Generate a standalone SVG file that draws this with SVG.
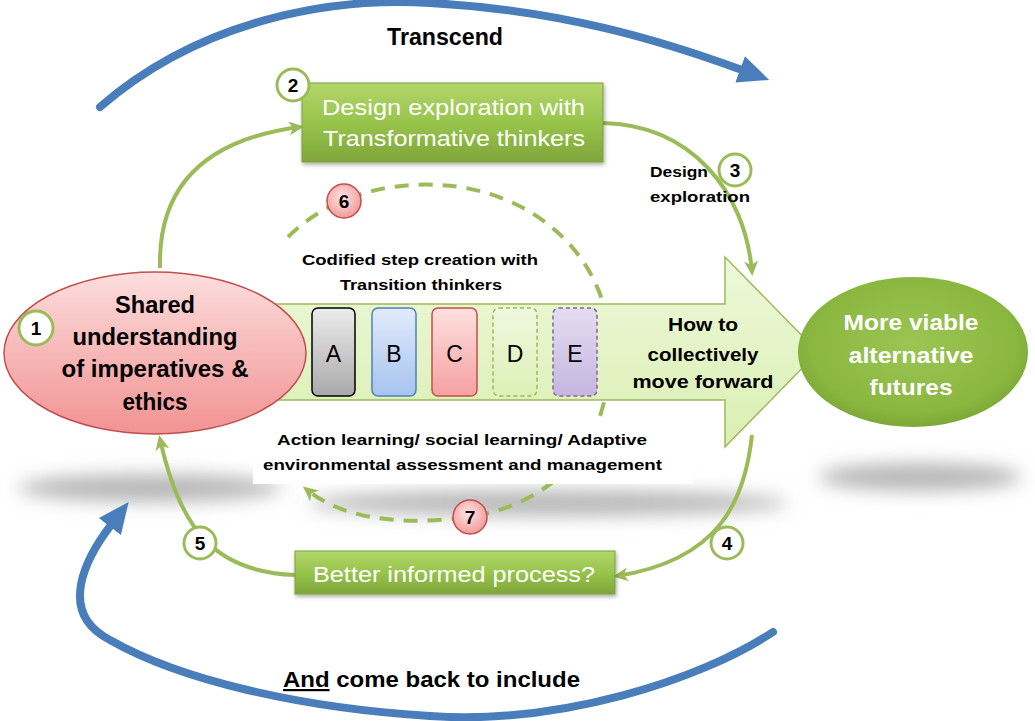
<svg xmlns="http://www.w3.org/2000/svg" width="1035" height="721" viewBox="0 0 1035 721">
<defs>
  <style>
    .t{font-family:"Liberation Sans",Arial,sans-serif;font-weight:bold;fill:#000}
    .tw{font-family:"Liberation Sans",Arial,sans-serif;fill:#fff}
    .tn{font-family:"Liberation Sans",Arial,sans-serif;fill:#000}
    .conn{fill:none;stroke:#9bbb59;stroke-width:4}
    .dash{fill:none;stroke:#9bbb59;stroke-width:4;stroke-dasharray:14 10}
    .blue{fill:none;stroke:#4a7ebb;stroke-width:8;stroke-linecap:round}
    .badge{fill:#fff;stroke:#9bbb59;stroke-width:3}
    .badgeR{fill:url(#gBadgeR);stroke:#c0504d;stroke-width:1.5}
    .num{font-family:"Liberation Sans",Arial,sans-serif;font-weight:bold;font-size:19px;fill:#000;text-anchor:middle}
    .shadow{fill:#b8b8b8;filter:url(#blur)}
  </style>
  <filter id="blur" x="-30%" y="-200%" width="160%" height="500%"><feGaussianBlur stdDeviation="9"/></filter>
  <filter id="drop" x="-10%" y="-20%" width="120%" height="150%"><feDropShadow dx="1" dy="2" stdDeviation="2" flood-color="#000" flood-opacity="0.35"/></filter>
  <linearGradient id="gPink" x1="0" y1="0" x2="0" y2="1"><stop offset="0" stop-color="#fcdede"/><stop offset="0.5" stop-color="#f7b7b7"/><stop offset="1" stop-color="#f19393"/></linearGradient>
  <radialGradient id="gGreenE" cx="0.5" cy="0.45" r="0.6"><stop offset="0" stop-color="#9cc553"/><stop offset="0.75" stop-color="#8ab740"/><stop offset="1" stop-color="#76a032"/></radialGradient>
  <linearGradient id="gBox" x1="0" y1="0" x2="0" y2="1"><stop offset="0" stop-color="#b2d66a"/><stop offset="0.5" stop-color="#98c44c"/><stop offset="1" stop-color="#7ea63a"/></linearGradient>
  <linearGradient id="gArrow" x1="0" y1="0" x2="0" y2="1"><stop offset="0" stop-color="#eef8da"/><stop offset="1" stop-color="#daefb2"/></linearGradient>
  <linearGradient id="gA" x1="0" y1="0" x2="0" y2="1"><stop offset="0" stop-color="#ececec"/><stop offset="1" stop-color="#a9a9a9"/></linearGradient>
  <linearGradient id="gB" x1="0" y1="0" x2="0" y2="1"><stop offset="0" stop-color="#e2ebfa"/><stop offset="1" stop-color="#a7c3ef"/></linearGradient>
  <linearGradient id="gC" x1="0" y1="0" x2="0" y2="1"><stop offset="0" stop-color="#fde0e0"/><stop offset="1" stop-color="#f5a0a0"/></linearGradient>
  <linearGradient id="gD" x1="0" y1="0" x2="0" y2="1"><stop offset="0" stop-color="#f0f8e0"/><stop offset="1" stop-color="#dcf0b6"/></linearGradient>
  <linearGradient id="gE" x1="0" y1="0" x2="0" y2="1"><stop offset="0" stop-color="#e4ddf0"/><stop offset="1" stop-color="#c5b6e0"/></linearGradient>
  <radialGradient id="gBadgeR" cx="0.45" cy="0.4" r="0.6"><stop offset="0" stop-color="#fde6e6"/><stop offset="1" stop-color="#f39a9a"/></radialGradient>
  <marker id="mG" markerUnits="userSpaceOnUse" markerWidth="16" markerHeight="14" refX="11" refY="7" orient="auto"><path d="M0,0 L15,7 L0,14 L4,7 z" fill="#9bbb59"/></marker>
  <marker id="mB" markerUnits="userSpaceOnUse" markerWidth="32" markerHeight="28" refX="2" refY="14" orient="auto"><path d="M0,0 L31,14 L0,28 z" fill="#4a7ebb"/></marker>
</defs>
<rect width="1035" height="721" fill="#fff"/>

<g id="shadows">
  <ellipse class="shadow" cx="150" cy="488" rx="132" ry="14"/>
  <ellipse class="shadow" cx="548" cy="503" rx="240" ry="13"/>
  <ellipse class="shadow" cx="920" cy="477" rx="102" ry="14"/>
</g>

<g id="cycle-7">
  <path class="dash" d="M288,237 C330,195 390,182 440,185 C530,190 595,250 607,320 C615,370 605,410 590,440 C570,475 530,505 480,515 C420,525 350,525 306,489" marker-end="url(#mG)"/>
</g>
<rect x="253" y="418" width="440" height="66" fill="#fff"/>

<g id="connectors">
  <path class="conn" d="M160,268 C158,190 200,140 300,127" marker-end="url(#mG)"/>
  <path class="conn" d="M603,123 C690,125 745,190 752,272" marker-end="url(#mG)"/>
  <path class="conn" d="M752,435 C745,500 720,560 617,576" marker-end="url(#mG)"/>
  <path class="conn" d="M295,575 C215,572 180,530 160,439" marker-end="url(#mG)"/>
  <path class="blue" d="M100,107 C200,20 330,-3 430,3 C560,10 660,40 742,70" marker-end="url(#mB)"/>
  <path class="blue" d="M773,632 C700,680 560,725 430,716 C300,708 180,680 110,640 C55,612 88,555 111,525" marker-end="url(#mB)"/>
</g>

<g id="main-arrow">
  <polygon points="268,304 725,304 725,257 818,352 725,447 725,400 268,400" fill="url(#gArrow)" stroke="#9bbb59" stroke-width="1.5"/>
  <text class="t" font-size="19" text-anchor="middle" x="703" y="331" textLength="70" lengthAdjust="spacingAndGlyphs">How to</text>
  <text class="t" font-size="19" text-anchor="middle" x="703" y="361" textLength="111" lengthAdjust="spacingAndGlyphs">collectively</text>
  <text class="t" font-size="19" text-anchor="middle" x="703" y="388" textLength="141" lengthAdjust="spacingAndGlyphs">move forward</text>
</g>

<g id="step-A"><rect x="312" y="308" width="43" height="88" rx="6" fill="url(#gA)" stroke="#000" stroke-width="1.5"/><text class="tn" font-size="23" text-anchor="middle" x="333.5" y="362">A</text></g>
<g id="step-B"><rect x="372" y="308" width="44" height="88" rx="6" fill="url(#gB)" stroke="#4f81bd" stroke-width="1.5"/><text class="tn" font-size="23" text-anchor="middle" x="394" y="362">B</text></g>
<g id="step-C"><rect x="432" y="308" width="45" height="88" rx="6" fill="url(#gC)" stroke="#c0504d" stroke-width="1.5"/><text class="tn" font-size="23" text-anchor="middle" x="454.5" y="362">C</text></g>
<g id="step-D"><rect x="493" y="308" width="44" height="88" rx="6" fill="url(#gD)" stroke="#9bbb59" stroke-width="1.5" stroke-dasharray="4 3"/><text class="tn" font-size="23" text-anchor="middle" x="515" y="362">D</text></g>
<g id="step-E"><rect x="553" y="308" width="44" height="88" rx="6" fill="url(#gE)" stroke="#8064a2" stroke-width="1.5" stroke-dasharray="4 3"/><text class="tn" font-size="23" text-anchor="middle" x="575" y="362">E</text></g>

<g id="shared-understanding">
  <ellipse cx="155" cy="353" rx="151" ry="81" fill="url(#gPink)" stroke="#c0504d" stroke-width="1.5"/>
  <text class="t" font-size="23" text-anchor="middle" x="155" y="313" textLength="80" lengthAdjust="spacingAndGlyphs">Shared</text>
  <text class="t" font-size="23" text-anchor="middle" x="155" y="345" textLength="165" lengthAdjust="spacingAndGlyphs">understanding</text>
  <text class="t" font-size="23" text-anchor="middle" x="155" y="377" textLength="187" lengthAdjust="spacingAndGlyphs">of imperatives &amp;</text>
  <text class="t" font-size="23" text-anchor="middle" x="155" y="410" textLength="65" lengthAdjust="spacingAndGlyphs">ethics</text>
</g>

<g id="viable-futures">
  <ellipse cx="913" cy="352" rx="115" ry="75" fill="url(#gGreenE)"/>
  <text class="tw" font-weight="bold" font-size="22" text-anchor="middle" x="911" y="330" textLength="135" lengthAdjust="spacingAndGlyphs">More viable</text>
  <text class="tw" font-weight="bold" font-size="22" text-anchor="middle" x="911" y="363" textLength="125" lengthAdjust="spacingAndGlyphs">alternative</text>
  <text class="tw" font-weight="bold" font-size="22" text-anchor="middle" x="911" y="395" textLength="83" lengthAdjust="spacingAndGlyphs">futures</text>
</g>

<g id="design-exploration">
  <rect x="302" y="83" width="301" height="79" fill="url(#gBox)" stroke="#7e9f3e" stroke-width="1" filter="url(#drop)"/>
  <text class="tw" font-size="22" text-anchor="middle" x="453.5" y="115" textLength="263" lengthAdjust="spacingAndGlyphs">Design exploration with</text>
  <text class="tw" font-size="22" text-anchor="middle" x="454" y="146" textLength="262" lengthAdjust="spacingAndGlyphs">Transformative thinkers</text>
</g>

<g id="better-informed">
  <rect x="295" y="551" width="320" height="43" fill="url(#gBox)" stroke="#7e9f3e" stroke-width="1" filter="url(#drop)"/>
  <text class="tw" font-size="22" text-anchor="middle" x="454" y="582" textLength="282" lengthAdjust="spacingAndGlyphs">Better informed process?</text>
</g>

<g id="labels">
  <text class="t" font-size="23" text-anchor="middle" x="445" y="45" textLength="116" lengthAdjust="spacingAndGlyphs">Transcend</text>
  <text class="t" font-size="22" x="283" y="687" textLength="297" lengthAdjust="spacingAndGlyphs"><tspan text-decoration="underline">And</tspan> come back to include</text>
  <text class="t" font-size="15" text-anchor="middle" x="420" y="265" textLength="236" lengthAdjust="spacingAndGlyphs">Codified step creation with</text>
  <text class="t" font-size="15" text-anchor="middle" x="421" y="290" textLength="162" lengthAdjust="spacingAndGlyphs">Transition thinkers</text>
  <text class="t" font-size="15" text-anchor="middle" x="462" y="445" textLength="370" lengthAdjust="spacingAndGlyphs">Action learning/ social learning/ Adaptive</text>
  <text class="t" font-size="15" text-anchor="middle" x="462.5" y="470" textLength="399" lengthAdjust="spacingAndGlyphs">environmental assessment and management</text>
  <text class="t" font-size="15" x="650" y="177" textLength="58" lengthAdjust="spacingAndGlyphs">Design</text>
  <text class="t" font-size="15" x="650" y="202" textLength="100" lengthAdjust="spacingAndGlyphs">exploration</text>
</g>

<g id="badge-1"><circle class="badge" cx="36" cy="328" r="17"/><text class="num" x="36" y="335">1</text></g>
<g id="badge-2"><circle class="badge" cx="293" cy="85" r="16"/><text class="num" x="293" y="92">2</text></g>
<g id="badge-3"><circle class="badge" cx="735" cy="170" r="16"/><text class="num" x="735" y="177">3</text></g>
<g id="badge-4"><circle class="badge" cx="727" cy="543" r="16"/><text class="num" x="727" y="550">4</text></g>
<g id="badge-5"><circle class="badge" cx="200" cy="543" r="16"/><text class="num" x="200" y="550">5</text></g>
<g id="badge-6"><circle class="badgeR" cx="344" cy="201" r="17"/><text class="num" x="344" y="208">6</text></g>
<g id="badge-7"><circle class="badgeR" cx="470" cy="517" r="17"/><text class="num" x="470" y="524">7</text></g>
</svg>
